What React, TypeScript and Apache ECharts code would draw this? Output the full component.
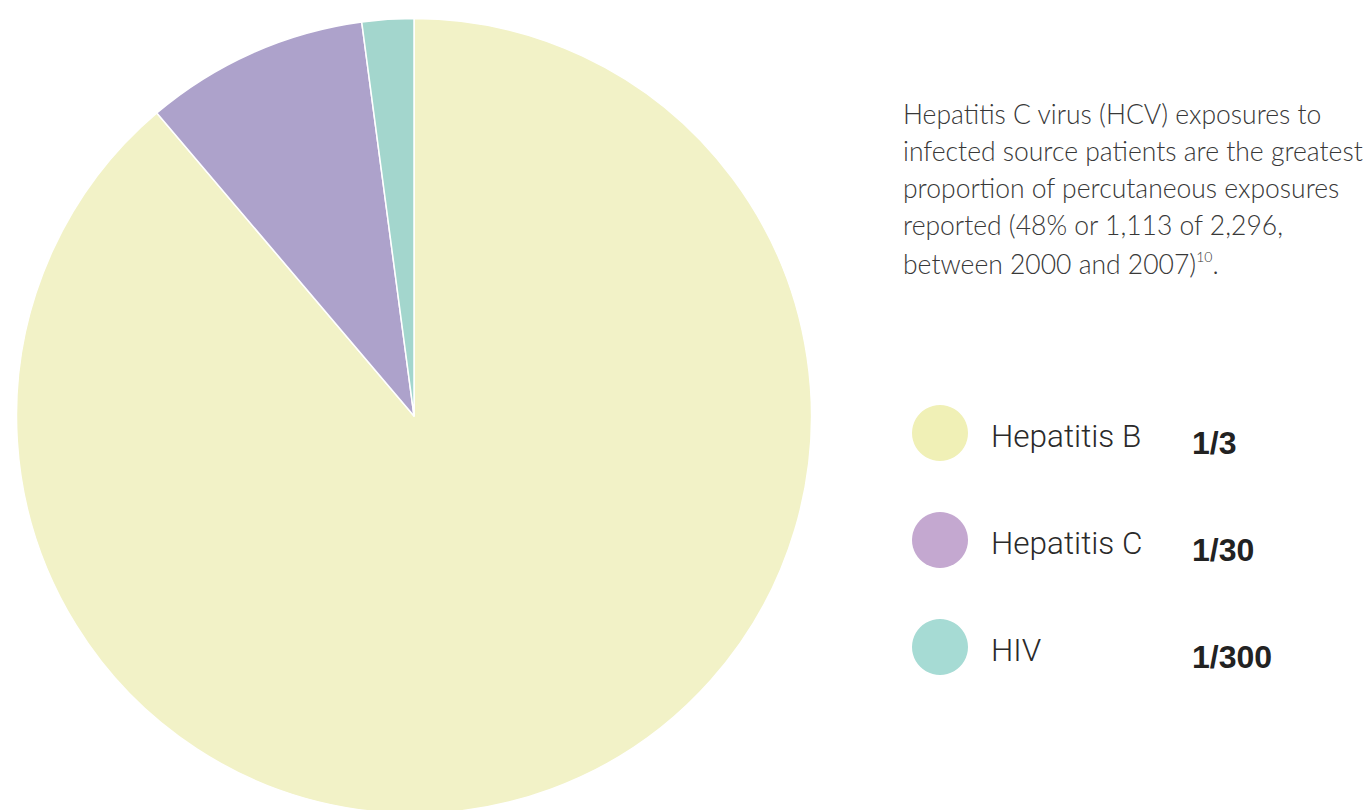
import React, { useEffect, useRef } from "react";
import * as echarts from "echarts";

const categories = ["Hepatitis B", "Hepatitis C", "HIV"];
const shares = [88.8, 9.1, 2.1];
const riskLabels = ["1/3", "1/30", "1/300"];
const sliceColors = ["#F2F2C7", "#ADA2CB", "#A3D6CD"];
const legendColors = ["#F0F0B6", "#C4A8D0", "#A6DBD4"];
const noteLines = [
  "Hepatitis C virus (HCV) exposures to",
  "infected source patients are the greatest",
  "proportion of percutaneous exposures",
  "reported (48% or 1,113 of 2,296,",
  "between 2000 and 2007){sup|10}.",
];

export default function App() {
  const ref = useRef<HTMLDivElement>(null);
  useEffect(() => {
    if (!ref.current) return;
    const chart = echarts.init(ref.current, undefined, { renderer: "svg" });
    const graphics: any[] = [];
    noteLines.forEach((line, i) => {
      graphics.push({
        type: "text",
        left: 903,
        top: 100 + i * 37.3,
        silent: true,
        style: {
          text: line,
          fill: "#383838",
          font: '300 26.5px "Lato", "Open Sans", sans-serif',
          rich: {
            sup: {
              fontSize: 14,
              fontFamily: "Lato",
              fontWeight: 300,
              fill: "#383838",
              verticalAlign: "top",
              padding: [0, 0, 15, 0],
            },
          },
        },
      });
    });
    categories.forEach((name, i) => {
      const cy = 433 + i * 107;
      graphics.push({
        type: "circle",
        shape: { cx: 940, cy, r: 28 },
        silent: true,
        style: { fill: legendColors[i] },
      });
      graphics.push({
        type: "text",
        x: 991,
        y: cy + 3,
        silent: true,
        style: {
          text: name,
          fill: "#2a2a2a",
          font: '300 31.5px "Roboto", "Liberation Sans", sans-serif',
          verticalAlign: "middle",
        },
      });
      graphics.push({
        type: "text",
        x: 1192,
        y: cy + 10,
        silent: true,
        style: {
          text: riskLabels[i],
          fill: "#222222",
          font: 'bold 32px "Liberation Sans", Arial, sans-serif',
          verticalAlign: "middle",
        },
      });
    });
    chart.setOption({
      animation: false,
      backgroundColor: "#ffffff",
      series: [
        {
          type: "pie",
          center: [414, 416],
          radius: 397.5,
          startAngle: 90,
          clockwise: true,
          silent: true,
          label: { show: false },
          labelLine: { show: false },
          itemStyle: { borderColor: "#ffffff", borderWidth: 1.5 },
          data: categories.map((name, i) => ({
            name,
            value: shares[i],
            itemStyle: { color: sliceColors[i] },
          })),
        },
      ],
      graphic: graphics,
    });
    return () => chart.dispose();
  }, []);
  return (
    <div
      ref={ref}
      style={{ position: "fixed", left: 0, top: 0, width: 1370, height: 810 }}
    />
  );
}
